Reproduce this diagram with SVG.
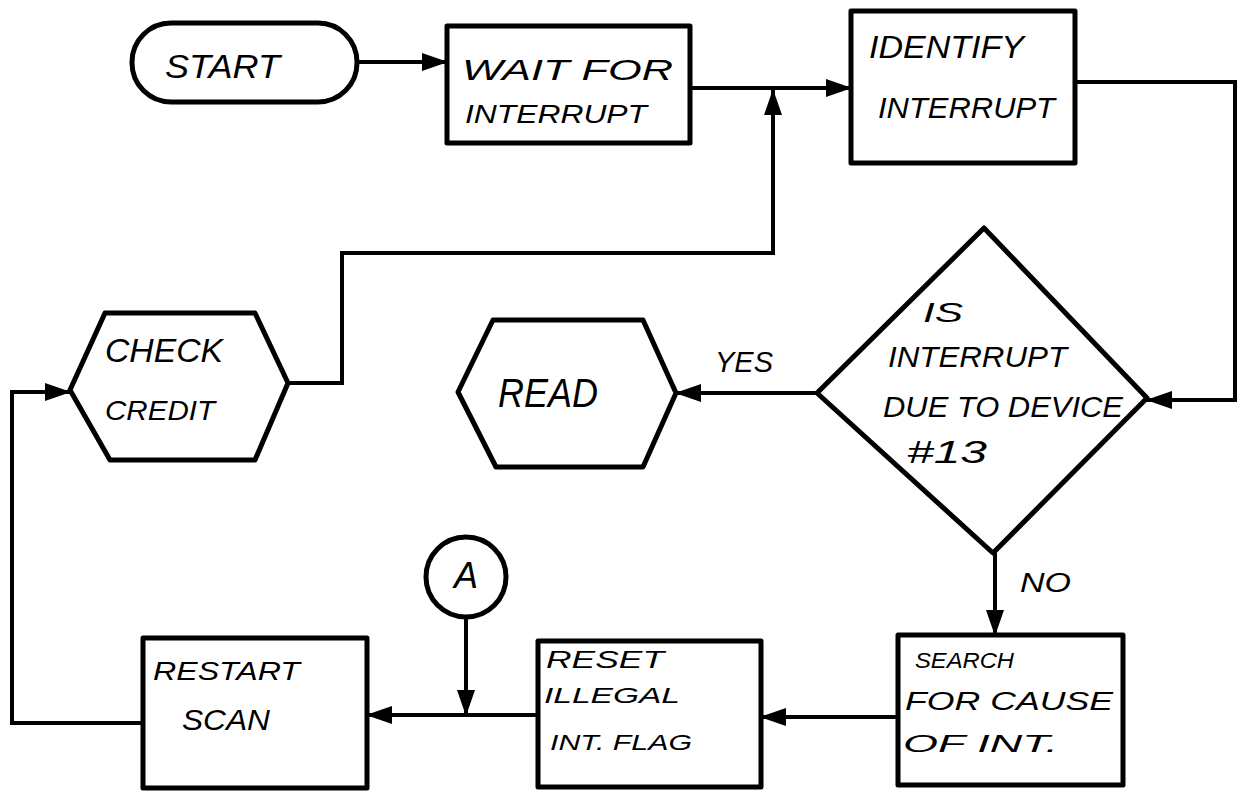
<svg xmlns="http://www.w3.org/2000/svg" width="1250" height="792" viewBox="0 0 1250 792">
<style>
.shape{fill:none;stroke:#000;stroke-width:5;stroke-linejoin:round}
.conn{fill:none;stroke:#000;stroke-width:4;stroke-linejoin:miter}
.t{font-family:"Liberation Sans",Arial,sans-serif;fill:#000;font-style:italic}
</style>
<defs>
<marker id="ah" markerUnits="userSpaceOnUse" markerWidth="26" markerHeight="20" refX="25" refY="10" orient="auto">
<path d="M0,1 L26,10 L0,19 Z" fill="#000"/>
</marker>
</defs>
<rect width="1250" height="792" fill="#fff"/>

<g id="connectors">
<path class="conn" d="M357,62 H447" marker-end="url(#ah)"/>
<path class="conn" d="M690,88 H851" marker-end="url(#ah)"/>
<path class="conn" d="M288,383 H342 V253 H773 V90" marker-end="url(#ah)"/>
<path class="conn" d="M1075,82 H1235 V400 H1147" marker-end="url(#ah)"/>
<path class="conn" d="M817,393 H676" marker-end="url(#ah)"/>
<path class="conn" d="M995,553 V635" marker-end="url(#ah)"/>
<path class="conn" d="M898,717 H761" marker-end="url(#ah)"/>
<path class="conn" d="M538,715 H367" marker-end="url(#ah)"/>
<path class="conn" d="M466,617 V715" marker-end="url(#ah)"/>
<path class="conn" d="M143,723 H12 V392 H70" marker-end="url(#ah)"/>
<text class="t" x="715" y="372" font-size="30" textLength="58" lengthAdjust="spacingAndGlyphs">YES</text>
<text class="t" x="1020" y="592" font-size="28" textLength="51" lengthAdjust="spacingAndGlyphs">NO</text>
</g>

<g id="start">
<rect class="shape" x="132" y="23" width="225" height="79" rx="39"/>
<text class="t" x="165" y="78" font-size="34" textLength="115" lengthAdjust="spacingAndGlyphs">START</text>
</g>

<g id="wait">
<rect class="shape" x="447" y="26" width="243" height="117"/>
<text class="t" x="462" y="80" font-size="30" textLength="211" lengthAdjust="spacingAndGlyphs">WAIT FOR</text>
<text class="t" x="465" y="123" font-size="26" textLength="182" lengthAdjust="spacingAndGlyphs">INTERRUPT</text>
</g>

<g id="identify">
<rect class="shape" x="851" y="11" width="224" height="152"/>
<text class="t" x="869" y="58" font-size="32" textLength="155" lengthAdjust="spacingAndGlyphs">IDENTIFY</text>
<text class="t" x="878" y="118" font-size="29" textLength="177" lengthAdjust="spacingAndGlyphs">INTERRUPT</text>
</g>

<g id="decision">
<polygon class="shape" points="984,228 1147,398 993,553 817,393"/>
<text class="t" x="923" y="322" font-size="28" textLength="40" lengthAdjust="spacingAndGlyphs">IS</text>
<text class="t" x="888" y="367" font-size="30" textLength="179" lengthAdjust="spacingAndGlyphs">INTERRUPT</text>
<text class="t" x="883" y="417" font-size="30" textLength="240" lengthAdjust="spacingAndGlyphs">DUE TO DEVICE</text>
<text class="t" x="907" y="463" font-size="32" textLength="80" lengthAdjust="spacingAndGlyphs">#13</text>
</g>

<g id="read">
<polygon class="shape" points="458,392 493,320 643,320 676,393 643,467 496,467"/>
<text class="t" x="498" y="407" font-size="40" textLength="100" lengthAdjust="spacingAndGlyphs">READ</text>
</g>

<g id="check-credit">
<polygon class="shape" points="70,390 105,313 255,313 288,383 255,460 110,460"/>
<text class="t" x="105" y="362" font-size="33" textLength="118" lengthAdjust="spacingAndGlyphs">CHECK</text>
<text class="t" x="105" y="420" font-size="28" textLength="110" lengthAdjust="spacingAndGlyphs">CREDIT</text>
</g>

<g id="search">
<rect class="shape" x="898" y="635" width="225" height="150"/>
<text class="t" x="915" y="668" font-size="22" textLength="99" lengthAdjust="spacingAndGlyphs">SEARCH</text>
<text class="t" x="905" y="710" font-size="26" textLength="208" lengthAdjust="spacingAndGlyphs">FOR CAUSE</text>
<text class="t" x="903" y="752" font-size="24" textLength="155" lengthAdjust="spacingAndGlyphs">OF INT.</text>
</g>

<g id="reset">
<rect class="shape" x="538" y="641" width="223" height="146"/>
<text class="t" x="546" y="668" font-size="24" textLength="118" lengthAdjust="spacingAndGlyphs">RESET</text>
<text class="t" x="544" y="703" font-size="22" textLength="136" lengthAdjust="spacingAndGlyphs">ILLEGAL</text>
<text class="t" x="550" y="750" font-size="22" textLength="142" lengthAdjust="spacingAndGlyphs">INT. FLAG</text>
</g>

<g id="connector-a">
<circle class="shape" cx="466" cy="577" r="40" stroke-width="4"/>
<text class="t" x="466" y="588" font-size="36" text-anchor="middle" font-style="normal">A</text>
</g>

<g id="restart">
<rect class="shape" x="143" y="638" width="224" height="150"/>
<text class="t" x="153" y="680" font-size="26" textLength="147" lengthAdjust="spacingAndGlyphs">RESTART</text>
<text class="t" x="182" y="730" font-size="30" textLength="88" lengthAdjust="spacingAndGlyphs">SCAN</text>
</g>
</svg>
